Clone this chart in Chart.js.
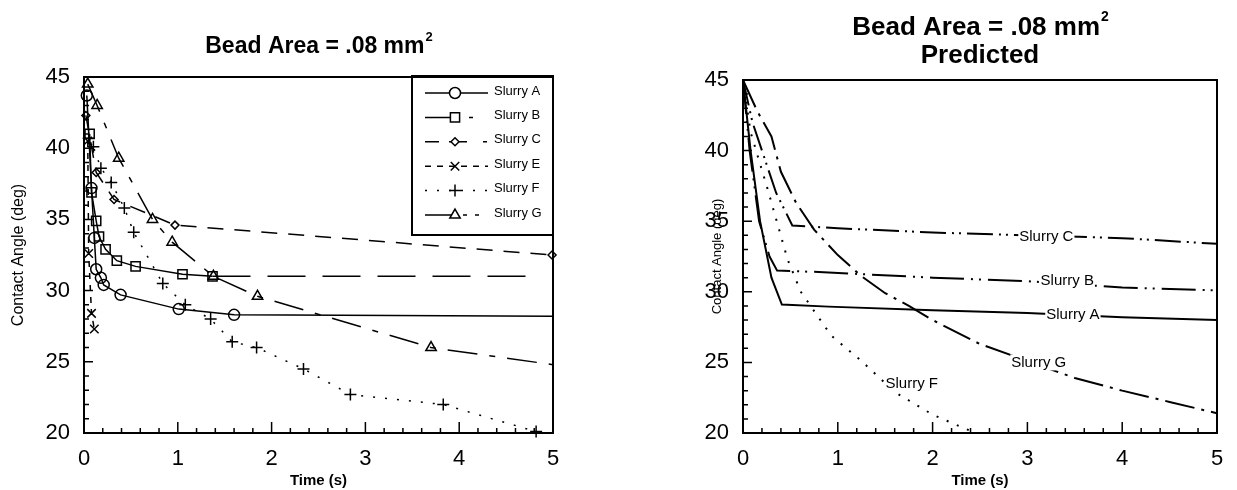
<!DOCTYPE html>
<html>
<head>
<meta charset="utf-8">
<script src="https://cdn.jsdelivr.net/npm/chart.js@4/dist/chart.umd.min.js"></script>
<style>
  body { margin: 0; background: #fff; }
  canvas { position: absolute; top: 0; }
</style>
</head>
<body>
<canvas id="measured" width="600" height="490" style="left:0"></canvas>
<canvas id="predicted" width="637" height="490" style="left:600px"></canvas>
<script>
// measured data (left plot)
const tA = [0.03, 0.08, 0.11, 0.13, 0.18, 0.21, 0.39, 1.01, 1.60, 5.0];
const yA = [43.7, 37.2, 33.7, 31.5, 30.9, 30.4, 29.7, 28.7, 28.3, 28.2];
const tB = [0.06, 0.08, 0.13, 0.16, 0.23, 0.35, 0.55, 1.05, 1.37, 4.87];
const yB = [41.0, 36.9, 34.9, 33.8, 32.9, 32.1, 31.7, 31.15, 31.0, 31.0];
const tC = [0.02, 0.13, 0.32, 0.97, 4.99];
const yC = [42.3, 38.3, 36.4, 34.6, 32.5];
const tE = [0.04, 0.05, 0.08, 0.11];
const yE = [40.5, 32.6, 28.4, 27.3];
const tF = [0.05, 0.10, 0.18, 0.29, 0.43, 0.53, 0.84, 1.08, 1.35, 1.58, 1.84, 2.34, 2.84, 3.83, 4.82];
const yF = [40.7, 40.1, 38.6, 37.6, 35.8, 34.1, 30.5, 29.0, 28.0, 26.4, 26.0, 24.5, 22.7, 22.0, 20.1];
const tG = [0.04, 0.14, 0.37, 0.73, 0.94, 1.38, 1.85, 3.70, 5.0];
const yG = [44.5, 43.0, 39.3, 35.0, 33.4, 31.0, 29.6, 26.0, 24.8];

// predicted curves (right plot)
const pA_t = [0, 0.08, 0.18, 0.30, 0.41, 0.9, 2, 3, 4, 5];
const pA_y = [45, 40, 35, 31, 29.1, 28.95, 28.7, 28.5, 28.2, 28.0];
const pB_t = [0, 0.07, 0.17, 0.28, 0.36, 0.8, 2, 3, 4, 5];
const pB_y = [45, 40, 35, 32.5, 31.5, 31.4, 31.0, 30.75, 30.3, 30.1];
const pC_t = [0, 0.1, 0.2, 0.35, 0.52, 1, 2, 3, 4, 5];
const pC_y = [45, 42, 40, 37, 34.7, 34.5, 34.2, 34.0, 33.8, 33.4];
const pF_t = [0, 0.08, 0.25, 0.47, 0.61, 0.93, 1.25, 1.6, 2.0, 2.45];
const pF_y = [45, 41.3, 37.5, 32.3, 30.0, 26.9, 25.1, 22.9, 21.3, 20.0];
const pG_t = [0, 0.15, 0.3, 0.4, 0.56, 0.75, 1.0, 1.25, 1.5, 1.75, 2, 2.5, 3, 3.5, 4, 4.5, 5];
const pG_y = [45, 42.8, 41, 38.5, 36.3, 34.4, 32.6, 31.1, 29.9, 29.0, 28.0, 26.3, 25.1, 23.9, 23.0, 22.2, 21.4];

const xTicks = [0, 1, 2, 3, 4, 5];
const yTicks = [20, 25, 30, 35, 40, 45];

const pts = (t, y) => t.map((v, i) => ({ x: v, y: y[i] }));
const FONT = 'Arial, "Liberation Sans", sans-serif';

// marker on every point but the last one (line end)
const noLast = (n, r) => Array.from({ length: n }, (_, i) => (i === n - 1 ? 0 : r));

function scalesFor(yW, yTitlePad, yTitleSize) {
  return {
    x: {
      type: 'linear', min: 0, max: 5,
      afterBuildTicks: s => { s.ticks = xTicks.map(v => ({ value: v })); },
      afterFit: s => { s.height = 57; },
      grid: { display: false, drawTicks: false },
      border: { display: false },
      ticks: { color: '#000', padding: 13, font: { family: FONT, size: 22 } },
      title: { display: true, text: 'Time (s)', color: '#000', padding: { top: 0, bottom: 0 },
               font: { family: FONT, size: 15, weight: 'bold' } }
    },
    y: {
      min: 20, max: 45,
      afterBuildTicks: s => { s.ticks = yTicks.map(v => ({ value: v })); },
      afterFit: s => { s.width = yW; },
      grid: { display: false, drawTicks: false },
      border: { display: false },
      ticks: { color: '#000', padding: 14, font: { family: FONT, size: 22 } },
      title: { display: true, text: 'Contact Angle (deg)', color: '#000', padding: { top: yTitlePad, bottom: 0 },
               font: { family: FONT, size: yTitleSize } }
    }
  };
}

// frame, inward ticks and title
function framePlugin(lines, size) {
  return {
    id: 'frame',
    afterDraw(chart) {
      const { ctx, chartArea: a, scales: { x, y } } = chart;
      ctx.save();
      ctx.strokeStyle = '#000';
      ctx.lineWidth = 2;
      ctx.strokeRect(a.left, a.top, a.right - a.left, a.bottom - a.top);
      ctx.lineWidth = 1.5;
      ctx.beginPath();
      for (let i = 0; i <= 25; i++) {
        const py = y.getPixelForValue(20 + i);
        const len = i % 5 === 0 ? 9 : 5;
        ctx.moveTo(a.left, py); ctx.lineTo(a.left + len, py);
      }
      for (let i = 0; i <= 25; i++) {
        const px = x.getPixelForValue(i * 0.2);
        const len = i % 5 === 0 ? 11 : 5;
        ctx.moveTo(px, a.bottom); ctx.lineTo(px, a.bottom - len);
      }
      ctx.stroke();

      const cx = (a.left + a.right) / 2;
      const main = 'bold ' + size + 'px ' + FONT;
      const sup = 'bold ' + Math.round(size * 0.55) + 'px ' + FONT;
      ctx.fillStyle = '#000';
      ctx.textBaseline = 'middle';
      lines.forEach(ln => {
        ctx.font = main;
        if (ln.sup) {
          const wMain = ctx.measureText(ln.text).width;
          ctx.font = sup;
          const wSup = ctx.measureText('2').width;
          const start = cx - (wMain + wSup) / 2;
          ctx.textAlign = 'left';
          ctx.font = main;
          ctx.fillText(ln.text, start, ln.y);
          ctx.font = sup;
          ctx.fillText('2', start + wMain + 1, ln.y - size * 0.42);
        } else {
          ctx.textAlign = 'center';
          ctx.fillText(ln.text, cx, ln.y);
        }
      });
      ctx.restore();
    }
  };
}

// legend drawn inside the top-right corner of the left plot
const legendPlugin = {
  id: 'boxLegend',
  afterDraw(chart) {
    const { ctx, chartArea: a } = chart;
    const left = a.right - 141, top = a.top - 1, bottom = a.top + 158;
    ctx.save();
    ctx.strokeStyle = '#000';
    ctx.lineWidth = 2;
    ctx.strokeRect(left, top, a.right - left, bottom - top);
    chart.data.datasets.forEach((ds, i) => {
      const ly = top + 17 + i * 24.4;
      ctx.lineWidth = 1.5;
      ctx.setLineDash(ds.legendDash || []);
      ctx.beginPath();
      ctx.moveTo(left + 13, ly); ctx.lineTo(left + 76, ly);
      ctx.stroke();
      ctx.setLineDash([]);
      ctx.fillStyle = '#fff';
      Chart.helpers.drawPoint(ctx, { pointStyle: ds.pointStyle, radius: ds.legendRadius, borderWidth: 1.5 }, left + 43, ly);
      ctx.fillStyle = '#000';
      ctx.font = '13px ' + FONT;
      ctx.textAlign = 'left';
      ctx.textBaseline = 'middle';
      ctx.fillText(ds.label, left + 82, ly - 2);
    });
    ctx.restore();
  }
};

const lineBase = { borderColor: '#000', backgroundColor: '#fff', pointBorderColor: '#000',
                   pointBackgroundColor: 'rgba(255,255,255,0)', borderWidth: 1.5, pointBorderWidth: 1.5,
                   tension: 0, clip: 10 };

new Chart(document.getElementById('measured'), {
  type: 'line',
  data: {
    datasets: [
      { ...lineBase, label: 'Slurry A', data: pts(tA, yA), pointStyle: 'circle',
        pointRadius: noLast(tA.length, 5.5), legendRadius: 5.5 },
      { ...lineBase, label: 'Slurry B', data: pts(tB, yB), pointStyle: 'rect',
        pointRadius: noLast(tB.length, 6.5), legendRadius: 6.5, legendDash: [30, 14, 4, 20],
        segment: { borderDash: c => (c.p1DataIndex === tB.length - 1 ? [38, 17] : undefined) } },
      { ...lineBase, label: 'Slurry C', data: pts(tC, yC), pointStyle: 'rectRot',
        pointRadius: 4, legendRadius: 4, borderDash: [16, 11], legendDash: [14, 10, 18, 16, 4, 20] },
      { ...lineBase, label: 'Slurry E', data: pts(tE, yE), pointStyle: 'crossRot',
        pointRadius: 6, legendRadius: 6, borderDash: [6, 6], legendDash: [6, 6] },
      { ...lineBase, label: 'Slurry F', data: pts(tF, yF), pointStyle: 'cross',
        pointRadius: 6, legendRadius: 6, borderDash: [2, 10], legendDash: [2, 10] },
      { ...lineBase, label: 'Slurry G', data: pts(tG, yG), pointStyle: 'triangle',
        pointRadius: noLast(tG.length, 6), legendRadius: 6, borderDash: [30, 12, 6, 12],
        legendDash: [30, 8, 4, 8, 4, 20] }
    ]
  },
  options: {
    responsive: false, animation: false, events: [],
    layout: { padding: { top: 77, left: 0, right: 47, bottom: 0 } },
    plugins: { legend: { display: false }, tooltip: { enabled: false } },
    scales: scalesFor(84, 9, 16)
  },
  plugins: [framePlugin([{ text: 'Bead Area = .08 mm', sup: true, y: 47 }], 23), legendPlugin]
});

// inline curve labels on the right plot
const labelText = ['Slurry C', 'Slurry B', 'Slurry A', 'Slurry G', 'Slurry F'];
const labelT = [3.2, 3.42, 3.48, 3.12, 1.78];
const labelY = [33.9, 30.75, 28.4, 25.0, 23.5];

const curveLabels = {
  id: 'curveLabels',
  afterDatasetsDraw(chart) {
    const { ctx, scales: { x, y } } = chart;
    ctx.save();
    ctx.font = '15px ' + FONT;
    ctx.textAlign = 'center';
    ctx.textBaseline = 'middle';
    labelText.forEach((txt, i) => {
      const px = x.getPixelForValue(labelT[i]), py = y.getPixelForValue(labelY[i]);
      const w = ctx.measureText(txt).width;
      ctx.fillStyle = '#fff';
      ctx.fillRect(px - w / 2 - 1, py - 8, w + 2, 16);
      ctx.fillStyle = '#000';
      ctx.fillText(txt, px, py);
    });
    ctx.restore();
  }
};

const predBase = { borderColor: '#000', borderWidth: 2, pointRadius: 0, tension: 0 };

new Chart(document.getElementById('predicted'), {
  type: 'line',
  data: {
    datasets: [
      { ...predBase, label: 'Slurry A', data: pts(pA_t, pA_y) },
      { ...predBase, label: 'Slurry B', data: pts(pB_t, pB_y), borderDash: [34, 7, 2, 6, 2, 7] },
      { ...predBase, label: 'Slurry C', data: pts(pC_t, pC_y), borderDash: [26, 6, 2, 5, 2, 6] },
      { ...predBase, label: 'Slurry F', data: pts(pF_t, pF_y), borderDash: [2, 9] },
      { ...predBase, label: 'Slurry G', data: pts(pG_t, pG_y), borderDash: [30, 7, 3, 7] }
    ]
  },
  options: {
    responsive: false, animation: false, events: [],
    layout: { padding: { top: 80, left: 0, right: 20, bottom: 0 } },
    plugins: { legend: { display: false }, tooltip: { enabled: false } },
    scales: scalesFor(143, 110, 13)
  },
  plugins: [framePlugin([{ text: 'Bead Area = .08 mm', sup: true, y: 28 }, { text: 'Predicted', y: 56 }], 26), curveLabels]
});
</script>
</body>
</html>
